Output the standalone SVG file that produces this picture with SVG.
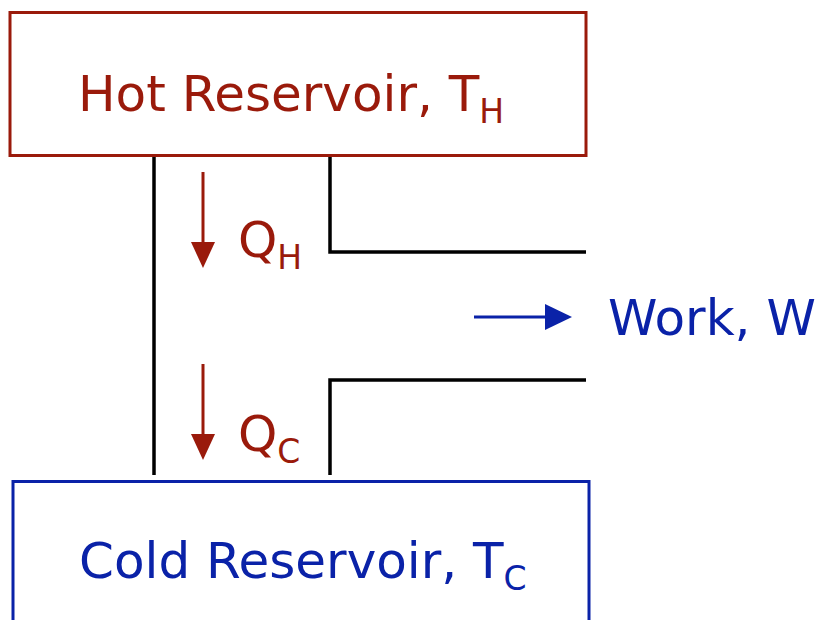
<svg xmlns="http://www.w3.org/2000/svg" width="830" height="620" viewBox="0 0 830 620">
<defs>
<style>
.hot{fill:#9a1a0b;}
.cold{fill:#0a22a8;}
text{font-family:"DejaVu Sans","Noto Sans",sans-serif;font-size:50px;}
.sub{font-size:33px;}
.pipe{fill:none;stroke:#000;stroke-width:3.5;}
</style>
</defs>
<g id="hot">
<rect x="10" y="12.5" width="576" height="143" fill="#fff" stroke="#9a1a0b" stroke-width="3"/>
<text x="78" y="111" class="hot">Hot Reservoir, T<tspan class="sub" dy="12">H</tspan></text>
</g>
<g id="cold">
<rect x="13" y="481.5" width="576" height="150" fill="#fff" stroke="#0a22a8" stroke-width="3"/>
<text x="79" y="578" class="cold">Cold Reservoir, T<tspan class="sub" dy="12">C</tspan></text>
</g>
<g id="connectors">
<path class="pipe" d="M154,157 V475"/>
<path class="pipe" d="M330,157 V252 H586"/>
<path class="pipe" d="M586,380 H330 V475"/>
<path d="M203,172 V244" stroke="#9a1a0b" stroke-width="3"/>
<path d="M191,242 L215,242 L203,268 Z" fill="#9a1a0b"/>
<path d="M203,364 V436" stroke="#9a1a0b" stroke-width="3"/>
<path d="M191,434 L215,434 L203,460 Z" fill="#9a1a0b"/>
<path d="M474,317 H548" stroke="#0a22a8" stroke-width="3"/>
<path d="M545,304 L572,317 L545,330 Z" fill="#0a22a8"/>
</g>
<g id="labels">
<text x="238" y="257" class="hot">Q<tspan class="sub" dy="12">H</tspan></text>
<text x="238" y="451" class="hot">Q<tspan class="sub" dy="12">C</tspan></text>
<text x="608" y="335" class="cold">Work, W</text>
</g>
</svg>
